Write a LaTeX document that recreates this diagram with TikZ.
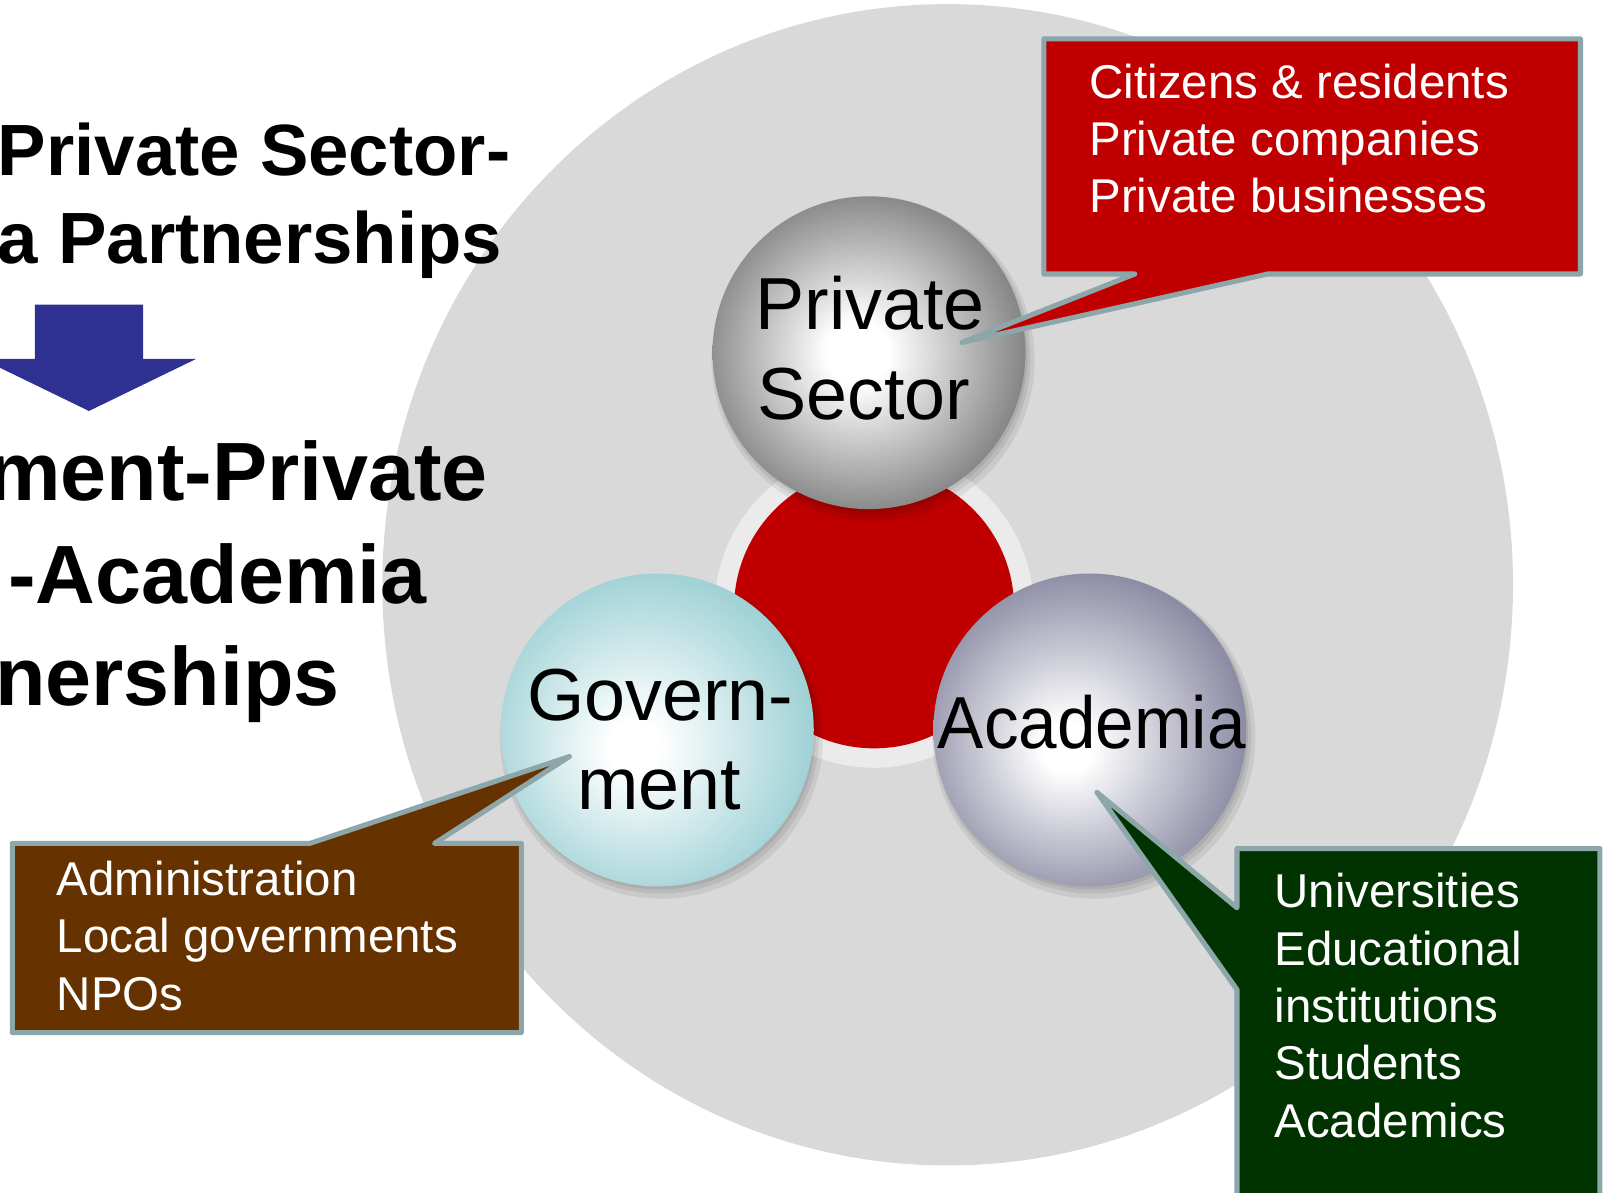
\documentclass[tikz,border=0pt]{standalone}
\usepackage{fontspec}
\setmainfont{Liberation Sans}
\definecolor{bggray}{HTML}{D9D9D9}
\definecolor{ringgray}{HTML}{EBEBEB}
\definecolor{hubred}{HTML}{C00000}
\definecolor{calloutborder}{HTML}{8CA6A9}
\definecolor{boxbrown}{HTML}{663300}
\definecolor{boxgreen}{HTML}{003300}
\definecolor{arrowblue}{HTML}{2E3192}
\definecolor{psgray}{HTML}{7F7F7F}
\definecolor{govteal}{HTML}{92CBD0}
\definecolor{acadslate}{HTML}{7C7C98}
\pgfdeclareradialshading{pssphere}{\pgfpoint{-2bp}{0bp}}{color(0bp)=(white); color(5bp)=(white); color(27bp)=(psgray); color(50bp)=(psgray)}
\pgfdeclareradialshading{govsphere}{\pgfpoint{-4bp}{-3bp}}{color(0bp)=(white); color(4bp)=(white); color(30bp)=(govteal); color(50bp)=(govteal)}
\pgfdeclareradialshading{acadsphere}{\pgfpoint{-4bp}{-3bp}}{color(0bp)=(white); color(4bp)=(white); color(30bp)=(acadslate); color(50bp)=(acadslate)}
\tikzset{
  titleA/.style={font=\bfseries\fontsize{20.2}{24}\selectfont, anchor=base east, inner sep=0pt},
  titleB/.style={font=\bfseries\fontsize{23}{28}\selectfont, anchor=base east, inner sep=0pt},
  spheretext/.style={font=\fontsize{20.5}{25}\selectfont, anchor=base, inner sep=0pt},
  callouttext/.style={font=\fontsize{13.2}{16}\selectfont, text=white, anchor=base west, inner sep=0pt},
  calloutshape/.style={draw=calloutborder, line width=1.4pt, line join=round},
  sphereshadow/.style={fill=black, opacity=0.07}
}
\begin{document}
\begin{tikzpicture}[x=0.01cm,y=-0.01cm]
\useasboundingbox (0,0) rectangle (1568,1166);
\clip (0,0) rectangle (1568,1166);
% background disc
\fill[bggray] (927,572) ellipse [x radius=553, y radius=568];
% hub
\fill[ringgray] (855,595) circle[radius=156];
\fill[hubred] (855,595) circle[radius=137];
% shadows
\foreach \cx/\cy in {850/345, 643/714, 1066/714}{
  \fill[sphereshadow] (\cx+4,\cy+7) circle[radius=158];
  \fill[sphereshadow] (\cx+3,\cy+5) circle[radius=155];
  \fill[sphereshadow] (\cx+2,\cy+3) circle[radius=153];
}
% spheres
\shade[shading=pssphere] (850,345) circle[radius=153];
\shade[shading=govsphere] (643,714) circle[radius=153];
\shade[shading=acadsphere] (1066,714) circle[radius=153];
\node[spheretext] (ps1) at (851,322) {Private};
\node[spheretext] (ps2) at (845,410) {Sector};
\node[spheretext] (gv1) at (646,705) {Govern-};
\node[spheretext] (gv2) at (645,792) {ment};
\node[spheretext, xscale=0.94] (ac1) at (1068,732) {Academia};
% callouts
\fill[hubred, calloutshape] (1021,38) -- (1546,38) -- (1546,268) -- (1240,268) -- (941,335) -- (1110,268) -- (1021,268) -- cycle;
\fill[boxbrown, calloutshape] (12,825) -- (303,825) -- (557,740) -- (425,825) -- (510,825) -- (510,1010) -- (12,1010) -- cycle;
\fill[boxgreen, calloutshape] (1210,830) -- (1565,830) -- (1565,1190) -- (1210,1190) -- (1210,968) -- (1073,775) -- (1210,888) -- cycle;
\node[callouttext] (r1) at (1065,96) {Citizens \& residents};
\node[callouttext] (r2) at (1065,152) {Private companies};
\node[callouttext] (r3) at (1065,208) {Private businesses};
\node[callouttext] (b1) at (55,876) {Administration};
\node[callouttext] (b2) at (55,932) {Local governments};
\node[callouttext] (b3) at (55,988) {NPOs};
\node[callouttext] (g1) at (1246,888) {Universities};
\node[callouttext] (g2) at (1246,944) {Educational};
\node[callouttext] (g3) at (1246,1000) {institutions};
\node[callouttext] (g4) at (1246,1056) {Students};
\node[callouttext] (g5) at (1246,1113) {Academics};
% title
\node[titleA] (t1) at (500,172) {Private Sector-};
\node[titleA] (t2) at (492,258) {a Partnerships};
\fill[arrowblue] (34,298) -- (140,298) -- (140,351) -- (192,351) -- (87,402) -- (-18,351) -- (34,351) -- cycle;
\node[titleB] (t3) at (478,490) {ment-Private};
\node[titleB] (t4) at (418,590) {-Academia};
\node[titleB] (t5) at (333,690) {nerships};
\end{tikzpicture}
\end{document}
